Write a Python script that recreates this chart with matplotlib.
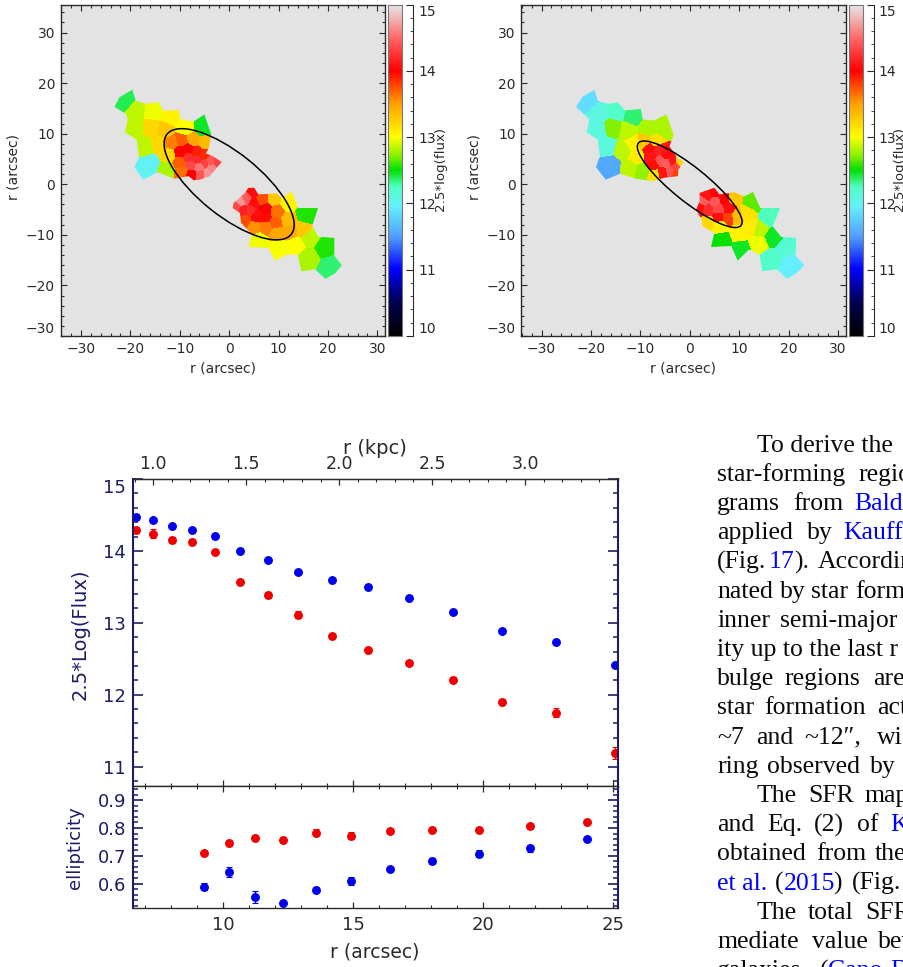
import numpy as np
import matplotlib
matplotlib.use("Agg")
import matplotlib.pyplot as plt
from matplotlib.colors import LinearSegmentedColormap
from matplotlib.patches import Ellipse, PathPatch
from matplotlib.path import Path
from matplotlib.ticker import FixedLocator, MultipleLocator

# --- data ---
# left map bins: x, y (arcsec), 2.5*log(flux)
left_x = [-21.1, -18.9, -15.3, -12.0, -19.1, -15.7, -13.0, -8.9, -5.4, -17.0, -14.3, -16.0, -12.6, -12.3, -11.6,
          -9.6, -7.4, -5.0, -9.9, -8.4, -6.6, -5.3, -9.9, -9.6, -8.4, -6.6, -7.8, -4.9, -6.2, -4.0, -2.4, -3.7,
          -4.5, -5.9, -7.6,
          4.9, 3.6, 2.4, 1.6, 4.9, 6.6, 9.0, 11.7, 2.8, 4.3, 7.3, 9.5, 5.5, 7.3, 3.2, 11.8, 9.3, 5.1, 7.3, 9.7,
          12.4, 14.7, 15.4, 5.9, 10.0, 13.4, 16.1, 16.1, 19.1, 20.1]
left_y = [16.4, 14.4, 14.2, 13.1, 11.1, 11.1, 10.7, 11.1, 11.1, 7.6, 8.2, 3.9, 2.9, 5.9, 8.2,
          8.7, 8.8, 8.3, 6.4, 7.0, 6.3, 5.7, 4.2, 2.6, 5.2, 4.9, 3.8, 4.2, 3.4, 4.5, 4.5, 3.2,
          2.1, 1.9, 1.9,
          -1.7, -3.0, -3.6, -4.5, -3.7, -3.0, -3.0, -3.7, -5.1, -5.1, -5.1, -5.5, -6.3, -6.3, -7.0, -7.0, -7.5,
          -8.4, -8.4, -9.6, -9.3, -8.9, -6.0, -10.9, -12.6, -11.9, -10.6, -14.5, -12.6, -16.2]
left_val = [12.4, 12.85, 12.95, 13.05, 12.85, 13.2, 13.3, 13.0, 12.45, 12.85, 13.2, 12.0, 12.8, 13.2, 13.6,
            13.7, 13.45, 13.35, 14.0, 14.0, 13.9, 13.85, 13.7, 13.65, 14.2, 14.2, 14.35, 14.3, 14.55, 14.4, 14.3,
            14.6, 14.65, 14.4, 14.0,
            14.05, 14.45, 14.65, 14.35, 14.05, 13.75, 13.3, 13.05, 14.15, 14.2, 14.0, 13.65, 14.05, 13.95, 13.75,
            13.35, 13.7, 13.55, 13.6, 13.45, 13.45, 13.3, 12.55, 12.95, 12.97, 13.0, 12.85, 12.8, 12.55, 12.35]

# right map bins
right_x = [-20.8, -18.6, -14.9, -11.6, -18.6, -15.6, -12.7, -8.5, -5.5, -16.8, -16.1, -13.6, -11.6, -9.3, -7.2,
           -12.2, -9.7, -10.9, -8.2, -8.0, -6.5, -5.1, -7.5, -6.1, -4.8, -3.8, -5.7, -4.1, -3.2, -3.0, -2.1, -7.2,
           5.0, 3.3, 2.6, 5.0, 6.9, 8.7, 2.0, 3.6, 5.7, 7.7, 5.7, 7.6, 3.6, 9.4, 6.0, 9.7, 11.4, 12.4, 15.8, 14.1,
           12.1, 6.4, 10.1, 13.8, 16.5, 19.2, 16.1, 20.2]
right_y = [16.4, 13.8, 14.2, 13.3, 10.5, 11.1, 10.5, 11.1, 11.1, 7.6, 3.6, 6.8, 8.2, 8.5, 8.5,
           3.2, 2.6, 5.5, 7.2, 5.4, 6.8, 5.9, 3.8, 4.7, 4.2, 4.5, 2.2, 2.6, 3.4, 2.1, 4.5, 1.9,
           -1.7, -2.4, -3.4, -3.5, -3.0, -3.0, -4.7, -5.1, -5.0, -4.7, -6.3, -6.4, -7.3, -6.3, -8.3, -9.6, -5.7,
           -3.7, -6.6, -8.9, -8.3, -10.9, -12.9, -11.6, -10.4, -12.6, -14.9, -15.9]
right_val = [11.85, 12.1, 12.2, 12.35, 12.1, 12.7, 12.85, 12.8, 12.8, 12.1, 11.55, 12.85, 13.05, 13.3, 13.15,
             12.85, 12.75, 13.1, 13.95, 14.1, 14.15, 14.05, 13.95, 14.4, 14.45, 14.1, 14.1, 14.4, 14.3, 13.8,
             13.25, 13.15,
             14.0, 14.1, 14.45, 14.4, 14.0, 13.3, 14.05, 14.2, 14.35, 14.05, 14.05, 13.8, 13.2, 13.35, 13.05, 13.05,
             13.15, 12.65, 12.25, 12.85, 13.1, 12.5, 12.45, 12.95, 12.45, 12.15, 12.2, 11.95]

# outer edge of the binned regions (arcsec)
left_nw_edge = [(-23.2, 15.3), (-22.2, 17.2), (-19.6, 18.7), (-18.9, 16.5), (-16.9, 15.9), (-14.3, 16.2),
                (-13.3, 14.5), (-10.3, 14.7), (-9.8, 12.8), (-7.2, 12.4), (-5.0, 13.8), (-3.6, 9.8), (-4.1, 7.2),
                (-4.7, 6.1), (-3.2, 5.5), (-1.5, 4.4), (-2.8, 2.9), (-3.9, 1.6), (-5.9, 0.9), (-7.2, 0.8),
                (-8.2, 1.6), (-11.1, 1.1), (-14.5, 2.4), (-17.4, 0.9), (-19.2, 3.4), (-18.2, 5.4), (-18.7, 8.8),
                (-21.1, 10.3), (-20.5, 12.8), (-20.9, 13.9)]
left_se_edge = [(5.1, -0.7), (5.9, -2.0), (9.7, -1.8), (10.7, -2.8), (12.7, -1.4), (13.9, -4.7), (18.0, -4.7),
                (16.8, -8.3), (18.1, -10.4), (21.3, -10.6), (21.3, -14.1), (22.8, -16.0), (21.5, -17.6),
                (19.5, -18.7), (17.4, -16.8), (14.6, -17.2), (13.9, -13.9), (11.7, -13.9), (9.3, -15.1),
                (8.0, -12.6), (3.9, -12.4), (4.6, -9.9), (2.4, -7.6), (2.2, -5.7), (0.7, -4.7), (0.9, -3.7),
                (3.2, -1.7), (3.9, -0.7)]
right_nw_edge = [(-23.0, 15.3), (-21.8, 17.2), (-19.3, 18.7), (-18.6, 16.5), (-16.6, 15.9), (-14.6, 16.2),
                 (-13.1, 14.6), (-9.9, 14.9), (-9.5, 12.8), (-7.2, 12.6), (-4.7, 13.8), (-3.3, 9.8), (-4.1, 7.5),
                 (-2.4, 5.1), (-1.2, 4.4), (-2.3, 2.9), (-2.4, 1.6), (-5.1, 1.3), (-6.4, 0.9), (-7.2, 0.6),
                 (-10.9, 1.1), (-14.1, 2.1), (-17.0, 0.9), (-19.0, 3.4), (-18.2, 5.5), (-18.6, 8.8),
                 (-20.9, 10.3), (-20.3, 12.8)]
right_se_edge = [(5.0, -0.7), (6.0, -2.0), (9.1, -1.6), (11.1, -2.4), (12.8, -1.5), (14.3, -4.7), (18.3, -4.7),
                 (16.8, -8.3), (18.5, -10.4), (21.6, -10.6), (21.4, -14.1), (23.2, -16.0), (21.6, -17.6),
                 (19.7, -18.7), (17.6, -16.8), (14.7, -17.2), (14.1, -13.9), (12.0, -12.9), (9.7, -15.1),
                 (8.4, -12.2), (4.3, -12.4), (5.0, -9.6), (2.6, -8.3), (2.4, -7.0), (1.3, -5.0), (2.0, -3.4),
                 (2.0, -1.7)]

# ellipse: semi-major, semi-minor, angle
left_ell = [16.0, 6.2, -38]
right_ell = [13.2, 3.4, -38]

# radial profiles
r_flux = [6.62, 7.28, 8.02, 8.80, 9.67, 10.64, 11.70, 12.87, 14.17, 15.56, 17.12, 18.83, 20.71, 22.78, 25.05]
flux_blue = [14.47, 14.43, 14.34, 14.29, 14.21, 14.00, 13.88, 13.71, 13.60, 13.50, 13.35, 13.15, 12.88, 12.73, 12.41]
flux_red = [14.29, 14.24, 14.15, 14.13, 13.98, 13.57, 13.39, 13.11, 12.82, 12.62, 12.44, 12.21, 11.90, 11.75, 11.19]
flux_blue_err = [.03, .02, .02, .02, .02, .02, .02, .02, .02, .02, .02, .02, .02, .02, .02]
flux_red_err = [.04, .06, .04, .03, .03, .03, .04, .05, .03, .03, .03, .04, .04, .06, .08]

r_ell = [9.27, 10.20, 11.21, 12.31, 13.55, 14.91, 16.39, 18.03, 19.83, 21.81, 24.0]
ell_red = [0.710, 0.746, 0.763, 0.758, 0.783, 0.772, 0.788, 0.791, 0.794, 0.807, 0.823]
ell_blue = [0.589, 0.641, 0.552, 0.529, 0.578, 0.610, 0.652, 0.681, 0.708, 0.727, 0.760]
ell_red_err = [.005, .01, .006, .01, .012, .012, .006, .006, .004, .006, .004]
ell_blue_err = [.012, .018, .022, .008, .008, .014, .008, .01, .014, .012, .005]

# column of paper text: words per line, blue flag
text_lines = [
    [("To derive the", 0)],
    [("star-forming", 0), ("regio", 0)],
    [("grams", 0), ("from", 0), ("Bald", 1)],
    [("applied", 0), ("by", 0), ("Kauff", 1)],
    [("(Fig.", 0), ("17", 1), (").", 0), ("Accordin", 0)],
    [("nated", 0), ("by", 0), ("star", 0), ("form", 0)],
    [("inner", 0), ("semi-major", 0)],
    [("ity up to the last r", 0)],
    [("bulge", 0), ("regions", 0), ("are", 0)],
    [("star", 0), ("formation", 0), ("act", 0)],
    [("~7", 0), ("and", 0), ("~12\u2033,", 0), ("wi", 0)],
    [("ring", 0), ("observed", 0), ("by", 0), ("K", 1)],
    [("The", 0), ("SFR", 0), ("map", 0)],
    [("and", 0), ("Eq.", 0), ("(2)", 0), ("of", 0), ("K", 1)],
    [("obtained", 0), ("from", 0), ("the", 0)],
    [("et al.", 1), ("(", 0), ("2015", 1), (")", 0), ("(Fig.", 0)],
    [("The", 0), ("total", 0), ("SFR", 0)],
    [("mediate", 0), ("value", 0), ("bet", 0)],
    [("galaxies", 0), ("(", 0), ("Cano-D", 1)],
]
# word start positions in pixels
text_x = [
    [757], [717, 859], [717, 793, 854], [717, 807, 843], [717, 769, 794, 818], [717, 780, 811, 855], [717, 780], [717],
    [717, 785, 873], [717, 764, 877], [717, 756, 804, 877], [717, 767, 870, 902], [757, 808, 865],
    [717, 767, 814, 857, 890], [717, 816, 875], [717, 775, 784, 833, 852], [757, 808, 865], [717, 812, 878],
    [717, 820, 828],
]

# --- layout ---
W, H = 904, 967
plt.rcParams["font.family"] = ["DejaVu Sans"]
fig = plt.figure(figsize=(W / 100, H / 100), dpi=100)
NAVY = "#1c1c66"
GREY = "#2a2a2a"


def px_axes(left, top, right, bottom):
    return fig.add_axes([left / W, 1 - bottom / H, (right - left) / W, (bottom - top) / H])


def px_text(x, y, s, **kw):
    return fig.text(x / W, 1 - y / H, s, **kw)


flux_cmap = LinearSegmentedColormap.from_list("flux", [
    (0.00, "#000000"), (0.10, "#000050"), (0.20, "#0000ff"),
    (0.30, "#50a0ff"), (0.39, "#66f0ff"), (0.45, "#50ffc0"), (0.50, "#00e000"),
    (0.54, "#80f000"), (0.60, "#ffff00"), (0.70, "#ffa000"), (0.80, "#ff0000"),
    (0.90, "#ff6868"), (0.96, "#f0b8b8"), (1.00, "#e6e6e6")])


def bin_image(xs, ys, vals):
    # every pixel takes the value of its nearest bin
    xs, ys, vals = np.array(xs), np.array(ys), np.array(vals)
    gx = np.arange(-34, 31.6, 0.2) + 0.1
    gy = np.arange(-30, 35.5, 0.2) + 0.1
    X, Y = np.meshgrid(gx, gy)
    dist = np.hypot(X[..., None] - xs, Y[..., None] - ys)
    return vals[dist.argmin(axis=2)]


def edge_path(edges):
    return Path.make_compound_path(*[Path(list(e) + [e[0]], closed=True) for e in edges])


def draw_map(left, xs, ys, vals, edges, ell, cblabel_x):
    ax = px_axes(left, 4.7, left + 324.5, 336)
    ax.set_facecolor("#e3e3e3")
    im = ax.imshow(bin_image(xs, ys, vals), cmap=flux_cmap, vmin=10, vmax=15, origin="lower",
                   extent=(-34, 31.6, -30, 35.5), interpolation="nearest", aspect="auto")
    clip = PathPatch(edge_path(edges), transform=ax.transData, fc="none", ec="none")
    ax.add_patch(clip)
    im.set_clip_path(clip)
    ax.add_patch(Ellipse((0, 0), 2 * ell[0], 2 * ell[1], angle=ell[2], fill=False, ec="black", lw=1.1))
    ax.set_xticks([-30, -20, -10, 0, 10, 20, 30])
    ax.set_yticks([-30, -20, -10, 0, 10, 20, 30])
    ax.set_xticklabels(["\u221230", "\u221220", "\u221210", "0", "10", "20", "30"])
    ax.set_yticklabels(["\u221230", "\u221220", "\u221210", "0", "10", "20", "30"])
    ax.get_yticklabels()[0].set_va("bottom")
    ax.xaxis.set_minor_locator(MultipleLocator(2))
    ax.yaxis.set_minor_locator(MultipleLocator(2))
    ax.set_xlim(-34.1, 31.6)
    ax.set_ylim(-30, 35.5)
    ax.tick_params(which="both", direction="in", top=True, right=True, color=GREY, labelcolor=GREY, width=0.8)
    ax.tick_params(which="major", length=4.5, labelsize=10, pad=4)
    ax.tick_params(which="minor", length=2.3)
    for s in ax.spines.values():
        s.set_linewidth(1.0)
        s.set_color(GREY)
    px_text(left + 162, 368, "r (arcsec)", fontsize=10, color=GREY, ha="center", va="center")
    px_text(left - 47, 167, "r (arcsec)", fontsize=10, color=GREY, ha="center", va="center", rotation=90)

    cax = px_axes(left + 327.5, 4.7, left + 341.5, 336)
    cax.imshow(np.linspace(10, 15, 256)[:, None], cmap=flux_cmap, vmin=10, vmax=15, origin="lower",
               extent=(0, 1, 10, 15), aspect="auto")
    cax.set_xticks([])
    cax.set_yticks([])
    for s in cax.spines.values():
        s.set_linewidth(0.8)
        s.set_color("#777777")

    sax = px_axes(left + 344, 4.7, left + 352.5, 336)
    sax.patch.set_alpha(0)
    sax.set_ylim(10, 15)
    sax.set_xticks([])
    sax.yaxis.tick_right()
    sax.set_yticks([10, 11, 12, 13, 14, 15])
    sax.yaxis.set_minor_locator(MultipleLocator(0.2))
    sax.tick_params(which="major", direction="in", length=5, labelsize=10, pad=3.5, color=GREY, labelcolor=GREY)
    sax.tick_params(which="minor", direction="in", length=2.5, color=GREY)
    for name in ["left", "top", "bottom"]:
        sax.spines[name].set_visible(False)
    sax.spines["right"].set_color(GREY)
    labs = sax.get_yticklabels()
    labs[0].set_va("bottom")
    labs[-1].set_va("top")
    px_text(cblabel_x, 169, "2.5*log(flux)", fontsize=9.6, color=GREY, ha="center", va="center", rotation=90)


draw_map(60.7, left_x, left_y, left_val, [left_nw_edge, left_se_edge], left_ell, 441)
draw_map(521.3, right_x, right_y, right_val, [right_nw_edge, right_se_edge], right_ell, 900)

# --- radial profile panels ---
XLIM = (6.52, 25.18)

ax1 = px_axes(133, 479, 618, 786)
ax2 = px_axes(133, 786, 618, 908)

pt = dict(fmt="o", ms=5.4, elinewidth=1, capsize=2, capthick=0.8)
ax1.errorbar(r_flux, flux_blue, yerr=flux_blue_err, color="#0000f0", **pt)
ax1.errorbar(r_flux, flux_red, yerr=flux_red_err, color="#f00000", **pt)
ax2.errorbar(r_ell, ell_red, yerr=ell_red_err, color="#f00000", **pt)
ax2.errorbar(r_ell, ell_blue, yerr=ell_blue_err, color="#0000f0", **pt)

ax1.set_xlim(*XLIM)
ax1.set_ylim(10.73, 15.0)
ax2.set_xlim(*XLIM)
ax2.set_ylim(0.512, 0.951)

ax1.yaxis.set_major_locator(MultipleLocator(1))
ax1.yaxis.set_minor_locator(MultipleLocator(0.2))
ax2.yaxis.set_major_locator(MultipleLocator(0.1))
ax2.yaxis.set_minor_locator(MultipleLocator(0.02))
for ax in [ax1, ax2]:
    ax.xaxis.set_major_locator(MultipleLocator(5))
    ax.xaxis.set_minor_locator(MultipleLocator(1))
    ax.tick_params(axis="x", which="major", direction="in", top=True, length=4, width=0.9, color=GREY,
                   labelsize=13, labelcolor=GREY, pad=6)
    ax.tick_params(axis="x", which="minor", direction="in", top=True, length=2, width=0.8, color=GREY)
    ax.tick_params(axis="y", which="major", direction="in", right=True, length=7.5, width=1.2, color=NAVY,
                   labelsize=13, labelcolor=NAVY, pad=5)
    ax.tick_params(axis="y", which="minor", direction="in", right=True, length=3.5, width=1.1, color=NAVY)
    ax.spines["left"].set_color(NAVY)
    ax.spines["right"].set_color(NAVY)
    ax.spines["left"].set_linewidth(1.5)
    ax.spines["right"].set_linewidth(1.5)
    ax.spines["top"].set_color(GREY)
    ax.spines["bottom"].set_color(GREY)
    ax.spines["top"].set_linewidth(1.0)
    ax.spines["bottom"].set_linewidth(1.0)
ax1.tick_params(axis="x", which="both", labelbottom=False)
ax2.set_xticks([10, 15, 20, 25])
ax2.set_xlim(*XLIM)
fig.canvas.draw()
for lab in ax1.get_yticklabels():
    if lab.get_text() == "15":
        lab.set_va("top")

top = ax1.secondary_xaxis("top", functions=(lambda r: (r - 7.30) / 7.15 + 1, lambda k: (k - 1) * 7.15 + 7.30))
top.xaxis.set_major_locator(FixedLocator([1.0, 1.5, 2.0, 2.5, 3.0]))
top.xaxis.set_minor_locator(MultipleLocator(0.1))
top.tick_params(which="major", direction="in", length=4, width=0.9, color=GREY, labelsize=12.5, labelcolor=GREY, pad=4)
top.tick_params(which="minor", direction="in", length=2, width=0.8, color=GREY)
top.spines["top"].set_color(GREY)
ax1.tick_params(axis="x", which="both", top=False)

px_text(375, 448, "r (kpc)", fontsize=14, color=GREY, ha="center", va="center")
px_text(375, 952, "r (arcsec)", fontsize=13.5, color=GREY, ha="center", va="center")
px_text(80, 634, "2.5*Log(Flux)", fontsize=14, color=NAVY, ha="center", va="center", rotation=90)
px_text(75, 848, "ellipticity", fontsize=13, color=NAVY, ha="center", va="center", rotation=90)

# --- text column on the right ---
for i, words in enumerate(text_lines):
    y = 451.7 + i * 29.2
    for (word, blue), x in zip(words, text_x[i]):
        px_text(x, y, word, fontsize=18.5, family="Liberation Serif", va="baseline", ha="left",
                color="#0000ff" if blue else "#0a0a0a")

fig.savefig("out.png", dpi=100)
